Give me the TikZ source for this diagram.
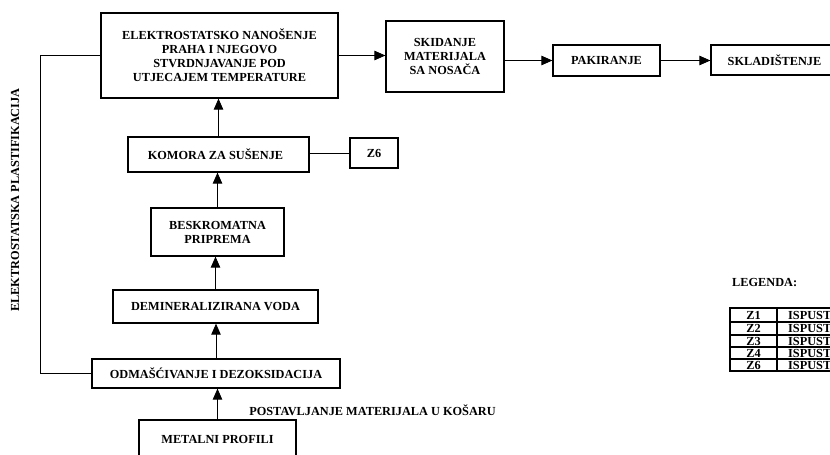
\documentclass[tikz,border=0pt]{standalone}
\usepackage{fontspec}
\setmainfont{Liberation Serif}
\usetikzlibrary{arrows.meta}
\tikzset{
  every node/.style={font=\fontsize{12.3}{14}\selectfont\bfseries},
  pbox/.style={draw, line width=1.3pt, align=center, inner sep=0pt},
  conn/.style={line width=0.9pt},
  arr/.style={conn, -{Triangle[length=11pt,width=9.5pt]}},
  tline/.style={line width=1.2pt}
}
\begin{document}
\begin{tikzpicture}[x=1pt,y=-1pt]
\useasboundingbox (0,0) rectangle (830,455);
\fill[white] (0,0) rectangle (830,455);
\clip (0,0) rectangle (830,455);

\node[pbox, minimum width=237pt, minimum height=85pt] (elek) at (219.5,55.5)
  {ELEKTROSTATSKO NANOŠENJE\\PRAHA I NJEGOVO\\STVRDNJAVANJE POD\\UTJECAJEM TEMPERATURE};
\node[pbox, minimum width=118pt, minimum height=71pt] (skid) at (445,56.5)
  {SKIDANJE\\MATERIJALA\\SA NOSAČA};
\node[pbox, minimum width=107pt, minimum height=31pt] (pak) at (606.5,60.5) {PAKIRANJE};
\node[pbox, minimum width=129pt, minimum height=30pt] (skl) at (775.5,60) {\hspace*{-2pt}SKLADIŠTENJE};
\node[pbox, minimum width=181pt, minimum height=35pt] (kom) at (218.5,154.5) {\hspace*{-6pt}KOMORA ZA SUŠENJE};
\node[pbox, minimum width=48pt, minimum height=30pt] (z6) at (374,153) {Z6};
\node[pbox, minimum width=133pt, minimum height=48pt] (besk) at (217.5,232) {BESKROMATNA\\PRIPREMA};
\node[pbox, minimum width=205pt, minimum height=33pt] (demi) at (215.5,306.5) {DEMINERALIZIRANA VODA};
\node[pbox, minimum width=248pt, minimum height=29pt] (odm) at (216,373.5) {ODMAŠĆIVANJE I DEZOKSIDACIJA};
\node[pbox, minimum width=157pt, minimum height=40pt] (met) at (217.5,440) {\raisebox{2pt}{METALNI PROFILI}};

\node (post) at (372.5,410) {POSTAVLJANJE MATERIJALA U KOŠARU};
\node[rotate=90] (plast) at (15,200) {ELEKTROSTATSKA PLASTIFIKACIJA};
\node[anchor=west, inner sep=0pt] (leg) at (732,283) {LEGENDA:};

% connectors
\draw[arr] (met.north) -- (odm.south -| met.north);
\draw[arr] (odm.north) -- (demi.south -| odm.north);
\draw[arr] (demi.north) -- (besk.south -| demi.north);
\draw[arr] (besk.north) -- (kom.south -| besk.north);
\draw[arr] (kom.north) -- (elek.south -| kom.north);
\draw[arr] (elek.east) -- (skid.west |- elek.east);
\draw[arr] (skid.east |- pak.west) -- (pak.west);
\draw[arr] (pak.east) -- (skl.west |- pak.east);
\draw[conn] (kom.east |- z6.west) -- (z6.west);
\coordinate (lt) at (40,0);
\draw[conn] (odm.west) -- (odm.west -| lt) -- (elek.west -| lt) -- (elek.west);

% legend table
\draw[tline] (730,308) rectangle (845,371);
\draw[tline] (777,308) -- (777,371);
\foreach \yy in {322,335,347,359} \draw[tline] (730,\yy) -- (845,\yy);
\foreach \lab/\yc in {Z1/315,Z2/328.5,Z3/341,Z4/353,Z6/365} {
  \node[font=\fontsize{12.3}{12}\selectfont\bfseries] (k\lab) at (753.5,\yc) {\lab};
  \node[anchor=west, inner sep=0pt, font=\fontsize{12.3}{12}\selectfont\bfseries] (v\lab) at (788,\yc) {ISPUST};
}
\end{tikzpicture}
\end{document}
